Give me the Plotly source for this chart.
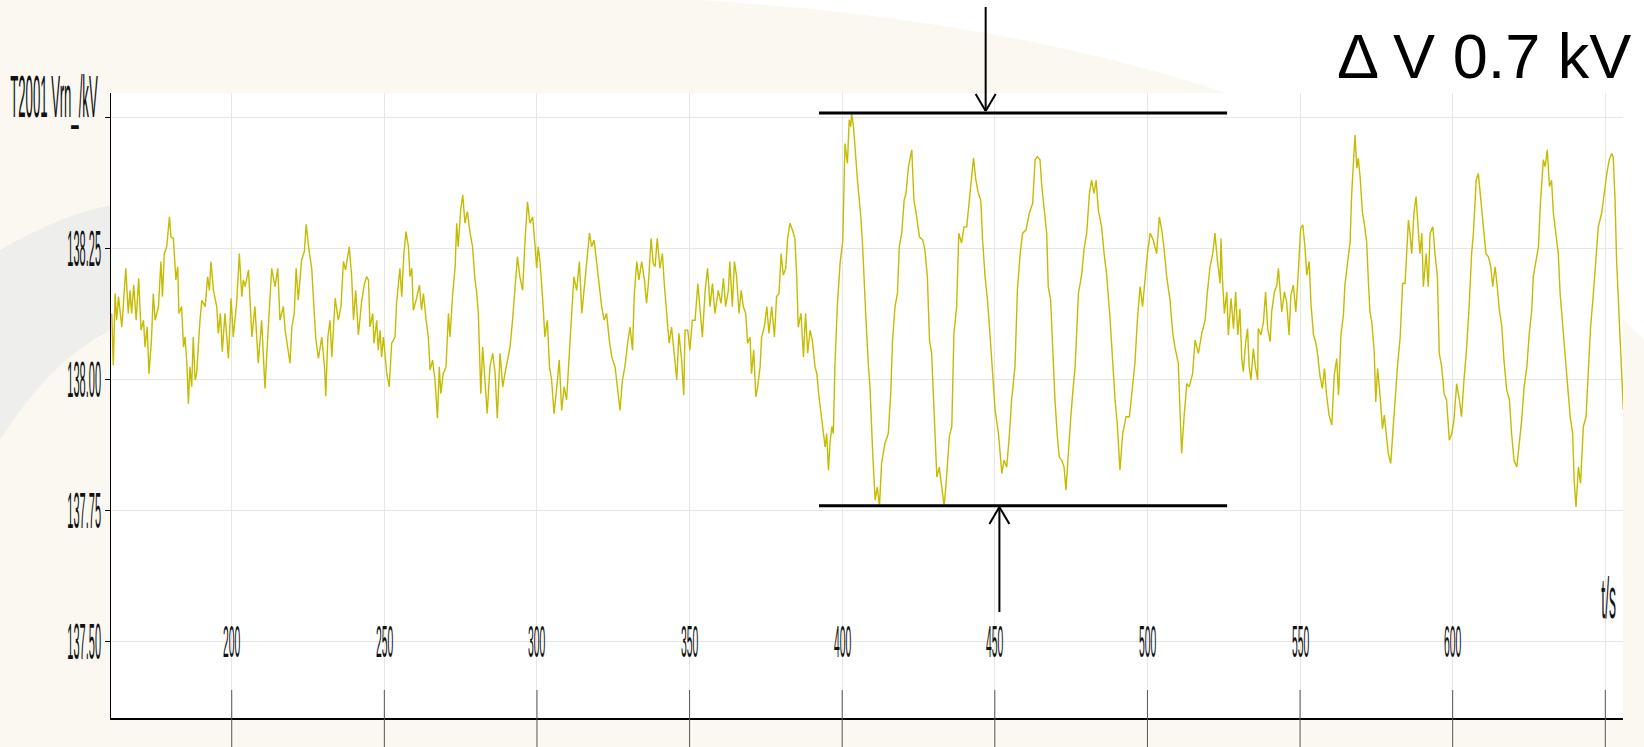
import plotly.graph_objects as go

# ---------------- data ----------------
time_s = [
    160.7, 161.2, 161.8, 162.3, 162.9, 164.0, 165.3, 166.1, 166.7, 167.2, 167.9, 168.7, 169.5, 170.3, 171.1,
    171.6, 172.3, 172.9, 173.7, 174.3, 174.9, 176.0, 176.8, 177.3, 177.9, 178.7, 179.6, 180.1, 180.9, 181.2,
    181.7, 182.3, 182.7, 183.6, 184.2, 184.7, 185.3, 185.8, 186.3, 186.9, 187.4, 188.0, 188.5, 189.6, 190.2,
    191.3, 192.1, 192.7, 193.2, 194.0, 195.1, 195.6, 196.3, 196.9, 197.8, 198.9, 199.8, 200.5, 201.6, 202.5,
    203.3, 203.8, 204.4, 205.5, 206.0, 206.6, 207.6, 208.2, 208.7, 209.8, 210.4, 210.9, 211.8, 212.6, 213.1,
    214.2, 215.1, 215.8, 216.9, 217.5, 218.0, 219.1, 219.7, 220.5, 221.1, 221.8, 222.9, 223.8, 224.4, 224.9,
    225.3, 226.2, 226.8, 227.5, 228.4, 229.5, 230.4, 230.8, 231.5, 232.2, 232.8, 233.3, 233.9, 234.9, 235.8,
    236.6, 237.3, 238.5, 239.3, 239.9, 240.6, 241.5, 242.6, 243.5, 244.2, 244.8, 245.3, 246.2, 246.6, 247.5,
    248.0, 248.6, 249.1, 249.7, 250.2, 250.8, 251.6, 252.4, 253.5, 254.0, 255.1, 255.7, 256.4, 257.1, 257.9,
    258.4, 259.0, 259.5, 260.4, 261.5, 262.2, 262.8, 263.7, 264.4, 265.0, 265.8, 266.6, 267.4, 268.0, 268.5,
    269.3, 270.2, 271.0, 271.5, 272.4, 273.2, 273.7, 274.2, 275.0, 275.7, 276.4, 277.2, 278.1, 278.9, 279.7,
    280.2, 280.8, 281.6, 282.2, 283.0, 283.7, 284.6, 285.5, 286.3, 287.0, 287.9, 288.8, 289.5, 290.3, 291.2,
    292.0, 292.8, 293.6, 294.4, 295.3, 296.1, 296.9, 297.7, 298.6, 299.4, 299.9, 300.4, 301.0, 301.9, 302.6,
    303.4, 304.1, 304.8, 305.6, 306.5, 307.3, 308.1, 308.9, 309.7, 310.6, 311.4, 312.1, 313.0, 313.9, 314.7,
    315.4, 316.3, 317.2, 317.9, 318.7, 319.6, 320.4, 321.2, 322.0, 322.8, 323.7, 324.5, 325.6, 326.4, 327.2,
    328.0, 328.8, 329.7, 330.5, 331.3, 331.9, 332.7, 333.4, 334.3, 335.2, 335.9, 336.5, 337.4, 338.1, 338.7,
    339.4, 340.3, 341.1, 341.7, 342.5, 343.3, 344.1, 345.0, 345.8, 346.5, 347.4, 348.1, 348.5, 349.4, 350.1,
    350.9, 351.8, 352.7, 353.4, 354.2, 355.1, 355.9, 356.7, 357.5, 358.3, 359.4, 360.3, 361.1, 361.8, 362.7,
    363.2, 364.0, 364.7, 365.4, 366.2, 366.9, 367.6, 368.4, 369.0, 369.8, 370.3, 371.0, 371.7, 372.3, 373.1,
    373.6, 374.5, 375.3, 376.0, 376.9, 377.8, 378.5, 379.3, 380.0, 380.7, 381.5, 382.1, 382.9, 383.7, 384.5,
    385.1, 385.6, 386.5, 387.3, 388.0, 388.7, 389.5, 390.2, 391.1, 391.7, 392.4, 393.3, 394.4, 394.9, 395.5,
    396.0, 396.6, 397.1, 397.6, 398.4, 399.3, 400.2, 400.9, 401.7, 402.3, 402.8, 403.1, 403.7, 404.2, 405.0,
    405.6, 406.1, 406.7, 407.1, 407.8, 408.6, 409.1, 410.0, 410.8, 411.5, 412.2, 412.9, 414.0, 415.1, 415.9,
    416.5, 417.3, 418.1, 418.7, 419.5, 420.3, 420.9, 421.7, 422.8, 423.5, 424.4, 425.3, 426.4, 427.1, 427.9,
    428.6, 429.3, 430.1, 431.0, 431.8, 432.6, 433.4, 434.2, 435.1, 435.9, 436.6, 437.5, 438.2, 439.1, 439.9,
    440.8, 441.9, 443.0, 443.8, 444.6, 445.4, 446.0, 446.8, 447.6, 448.4, 449.3, 450.1, 451.2, 452.3, 453.0,
    453.9, 454.8, 455.5, 456.6, 457.4, 458.3, 459.1, 460.2, 461.3, 462.4, 463.2, 463.9, 464.8, 465.4, 466.1,
    467.0, 467.5, 468.3, 469.0, 469.7, 470.5, 471.1, 471.9, 472.7, 473.3, 474.1, 474.9, 475.5, 476.3, 477.4,
    478.5, 479.2, 480.1, 481.0, 481.7, 482.5, 483.2, 483.9, 485.0, 485.8, 486.6, 487.7, 488.6, 489.4, 490.1,
    491.0, 491.9, 493.0, 494.1, 495.2, 495.9, 496.7, 497.6, 498.4, 499.2, 500.0, 500.9, 501.9, 503.0, 503.9,
    504.7, 505.4, 506.3, 507.4, 508.3, 509.0, 510.1, 511.2, 512.0, 512.9, 513.7, 514.8, 515.6, 516.7, 517.8,
    518.9, 519.6, 520.5, 521.4, 522.1, 522.9, 523.8, 524.1, 524.5, 525.2, 526.0, 526.5, 527.4, 528.2, 528.9,
    529.6, 530.3, 530.9, 531.4, 532.2, 532.8, 533.3, 533.9, 534.7, 535.3, 536.1, 536.3, 537.2, 538.0, 538.7,
    539.4, 540.2, 540.7, 541.6, 542.4, 542.9, 543.4, 544.0, 544.9, 545.6, 546.4, 547.0, 547.8, 548.6, 549.2,
    549.7, 550.2, 550.9, 551.6, 552.2, 553.0, 553.6, 554.4, 555.1, 555.8, 556.5, 557.3, 558.0, 558.7, 559.5,
    560.4, 561.2, 562.0, 562.6, 563.4, 564.2, 564.7, 565.6, 566.4, 566.9, 567.6, 568.0, 568.6, 569.1, 569.7,
    570.4, 571.1, 571.8, 572.4, 572.9, 573.5, 574.3, 574.8, 575.4, 576.2, 577.0, 577.6, 578.9, 579.7, 580.4,
    581.1, 581.9, 582.8, 583.6, 584.4, 584.9, 585.5, 586.0, 586.6, 587.3, 588.0, 588.8, 589.3, 589.9, 590.4,
    591.3, 592.0, 592.6, 593.5, 594.2, 595.0, 595.6, 596.4, 597.2, 598.0, 598.9, 599.7, 600.4, 601.3, 602.2,
    602.9, 603.7, 604.6, 605.5, 606.2, 606.8, 607.7, 608.4, 609.2, 610.1, 610.9, 611.7, 612.5, 613.1, 613.9,
    614.6, 615.3, 616.1, 616.8, 617.7, 618.6, 619.3, 620.1, 621.0, 621.9, 622.6, 623.4, 624.3, 625.1, 625.9,
    626.4, 627.3, 628.1, 628.8, 629.7, 630.3, 631.0, 631.7, 632.4, 633.0, 633.9, 634.6, 635.2, 636.0, 636.8,
    637.6, 638.5, 639.3, 639.8, 640.4, 641.2, 641.9, 642.8, 643.7, 644.4, 645.2, 646.1, 647.0, 647.7, 648.8,
    649.6, 650.5, 651.3, 652.1, 652.6, 653.2, 653.7, 654.3, 655.1, 655.9,
]

voltage_kv = [
    138.126, 138.027, 138.164, 138.113, 138.158, 138.100, 138.212, 138.126, 138.170, 138.126, 138.180, 138.113, 138.193, 138.094, 138.113,
    138.062, 138.100, 138.011, 138.075, 138.164, 138.113, 138.139, 138.225, 138.158, 138.240, 138.253, 138.310, 138.272, 138.269, 138.228,
    138.190, 138.215, 138.126, 138.139, 138.062, 138.081, 138.031, 137.954, 138.024, 137.986, 138.081, 137.999, 138.011, 138.113, 138.151,
    138.139, 138.196, 138.170, 138.225, 138.170, 138.139, 138.088, 138.126, 138.053, 138.126, 138.040, 138.155, 138.081, 138.145, 138.240,
    138.158, 138.190, 138.177, 138.209, 138.151, 138.081, 138.139, 138.088, 138.031, 138.113, 138.050, 137.983, 138.081, 138.151, 138.212,
    138.177, 138.212, 138.113, 138.139, 138.094, 138.075, 138.031, 138.100, 138.126, 138.212, 138.151, 138.228, 138.244, 138.296, 138.266,
    138.247, 138.212, 138.139, 138.081, 138.040, 138.081, 138.024, 137.968, 138.081, 138.113, 138.043, 138.088, 138.155, 138.113, 138.139,
    138.225, 138.209, 138.253, 138.196, 138.113, 138.170, 138.085, 138.151, 138.183, 138.196, 138.190, 138.100, 138.126, 138.069, 138.113,
    138.056, 138.094, 138.043, 138.081, 138.043, 138.011, 137.986, 138.069, 138.081, 138.145, 138.212, 138.158, 138.240, 138.282, 138.253,
    138.196, 138.212, 138.132, 138.151, 138.180, 138.132, 138.164, 138.113, 138.081, 138.018, 138.037, 137.999, 137.926, 138.024, 137.973,
    138.011, 138.024, 138.126, 138.081, 138.164, 138.215, 138.298, 138.253, 138.323, 138.352, 138.298, 138.320, 138.279, 138.253, 138.190,
    138.170, 138.126, 137.973, 138.062, 137.986, 137.935, 138.024, 138.050, 138.011, 137.926, 138.050, 137.986, 138.011, 138.037, 138.062,
    138.113, 138.170, 138.234, 138.196, 138.170, 138.266, 138.339, 138.298, 138.310, 138.253, 138.212, 138.253, 138.225, 138.151, 138.081,
    138.113, 138.024, 137.999, 137.935, 137.986, 138.037, 137.941, 137.986, 137.961, 138.050, 138.113, 138.196, 138.170, 138.225, 138.126,
    138.170, 138.212, 138.279, 138.253, 138.266, 138.221, 138.183, 138.139, 138.113, 138.126, 138.075, 138.043, 138.024, 137.986, 137.941,
    137.999, 138.024, 138.069, 138.100, 138.056, 138.164, 138.225, 138.190, 138.225, 138.190, 138.145, 138.183, 138.269, 138.221, 138.215,
    138.269, 138.212, 138.240, 138.183, 138.126, 138.069, 138.100, 138.050, 137.999, 138.088, 138.037, 137.970, 138.094, 138.094, 138.056,
    138.113, 138.113, 138.183, 138.139, 138.081, 138.170, 138.212, 138.139, 138.183, 138.126, 138.170, 138.145, 138.193, 138.139, 138.170,
    138.225, 138.139, 138.225, 138.196, 138.126, 138.170, 138.139, 138.126, 138.069, 138.081, 138.011, 138.056, 137.967, 137.986, 138.024,
    138.081, 138.100, 138.139, 138.088, 138.139, 138.081, 138.158, 138.164, 138.240, 138.199, 138.212, 138.269, 138.298, 138.285, 138.269,
    138.196, 138.100, 138.126, 138.043, 138.126, 138.050, 138.094, 138.075, 138.024, 138.011, 137.967, 137.926, 137.871, 137.897, 137.827,
    137.878, 137.910, 137.897, 138.024, 138.139, 138.221, 138.266, 138.450, 138.412, 138.495, 138.482, 138.508, 138.482, 138.438, 138.380,
    138.342, 138.310, 138.253, 138.196, 138.113, 138.024, 137.986, 137.859, 137.770, 137.795, 137.757, 137.840, 137.878, 137.897, 137.973,
    138.075, 138.139, 138.164, 138.253, 138.279, 138.342, 138.355, 138.406, 138.438, 138.342, 138.310, 138.272, 138.266, 138.247, 138.196,
    138.075, 138.050, 137.929, 137.814, 137.833, 137.795, 137.757, 137.814, 137.891, 137.910, 138.088, 138.139, 138.279, 138.260, 138.291,
    138.291, 138.355, 138.422, 138.380, 138.355, 138.342, 138.266, 138.196, 138.151, 138.088, 137.999, 137.941, 137.897, 137.821, 137.846,
    137.833, 137.897, 137.961, 138.024, 138.170, 138.240, 138.279, 138.285, 138.317, 138.336, 138.419, 138.425, 138.419, 138.368, 138.330,
    138.279, 138.177, 138.151, 138.056, 137.961, 137.891, 137.852, 137.846, 137.833, 137.789, 137.865, 137.929, 137.973, 138.024, 138.164,
    138.202, 138.247, 138.279, 138.355, 138.380, 138.355, 138.380, 138.323, 138.291, 138.240, 138.202, 138.120, 138.031, 137.961, 137.916,
    137.827, 137.897, 137.929, 137.929, 137.992, 138.031, 138.113, 138.177, 138.139, 138.196, 138.240, 138.279, 138.266, 138.240, 138.310,
    138.285, 138.253, 138.196, 138.151, 138.088, 138.062, 138.031, 137.859, 137.929, 137.992, 137.986, 138.011, 138.075, 138.050, 138.088,
    138.113, 138.164, 138.215, 138.240, 138.279, 138.228, 138.183, 138.269, 138.199, 138.126, 138.167, 138.085, 138.155, 138.097, 138.167,
    138.085, 138.135, 138.040, 138.015, 138.072, 138.097, 138.027, 137.999, 138.059, 138.027, 137.999, 138.097, 138.085, 138.110, 138.167,
    138.097, 138.072, 138.129, 138.167, 138.180, 138.212, 138.174, 138.129, 138.167, 138.148, 138.085, 138.161, 138.180, 138.129, 138.183,
    138.250, 138.288, 138.295, 138.253, 138.199, 138.225, 138.142, 138.085, 138.072, 138.046, 138.008, 137.983, 138.021, 137.970, 137.932,
    137.913, 138.008, 138.040, 137.970, 138.085, 138.123, 138.180, 138.225, 138.263, 138.352, 138.415, 138.466, 138.403, 138.422, 138.384,
    138.320, 138.295, 138.263, 138.186, 138.129, 138.110, 138.053, 137.957, 138.021, 137.970, 137.906, 137.932, 137.859, 137.840, 137.897,
    137.973, 138.024, 138.081, 138.183, 138.183, 138.240, 138.304, 138.279, 138.240, 138.317, 138.349, 138.279, 138.240, 138.279, 138.177,
    138.240, 138.177, 138.279, 138.291, 138.240, 138.196, 138.050, 138.024, 137.973, 137.961, 137.884, 137.897, 137.922, 137.992, 137.961,
    137.929, 137.999, 138.062, 138.151, 138.240, 138.279, 138.380, 138.393, 138.342, 138.285, 138.240, 138.234, 138.215, 138.177, 138.215,
    138.177, 138.132, 138.101, 138.037, 137.980, 137.961, 137.897, 137.846, 137.833, 137.884, 137.922, 137.986, 138.024, 138.088, 138.132,
    138.196, 138.228, 138.253, 138.342, 138.419, 138.406, 138.438, 138.368, 138.380, 138.317, 138.279, 138.240, 138.164, 138.101, 138.056,
    137.992, 137.929, 137.897, 137.808, 137.757, 137.833, 137.802, 137.910, 137.929, 138.011, 138.101, 138.164, 138.240, 138.291, 138.317,
    138.355, 138.393, 138.419, 138.431, 138.425, 138.342, 138.228, 138.151, 138.062, 137.942,
]

x_tick_vals = [200, 250, 300, 350, 400, 450, 500, 550, 600, 650]
x_tick_labels = ["200", "250", "300", "350", "400", "450", "500", "550", "600", ""]
y_tick_vals = [137.50, 137.75, 138.00, 138.25, 138.50]
y_tick_labels = ["137.50", "137.75", "138.00", "138.25", ""]

y_title = "T2001 Vrn_/kV"
x_title = "t/s"
delta_label = "\u0394 V 0.7 kV"

band_t = [392.4, 526.1]          # extent of the two marker lines (s)
band_v = [137.759, 138.508]      # min / max of the swing (kV)
arrow_t = [447.0, 451.5]         # top arrow, bottom arrow (s)

# ---------------- geometry ----------------
W, H = 1644, 747
L, R, T, B = 111, 1623, 93, 718
PW, PH = R - L, B - T
X_RANGE = [160.45, 655.8]
Y_RANGE = [137.3545, 138.5463]


def px(xp):
    return (xp - L) / PW


def py(yp):
    return (B - yp) / PH


def sq_font(scale_pct):
    # "Squash-NN" is a marker read by the page script (horizontal scale NN %)
    return f"Squash-{scale_pct}, Liberation Sans, Arial"


LINE_COLOR = "#c5bc00"
GRID = "#e6e6e6"

fig = go.Figure()
fig.add_trace(go.Scatter(
    x=time_s, y=voltage_kv, mode="lines",
    line=dict(color=LINE_COLOR, width=1.4),
    hoverinfo="skip", showlegend=False,
))

shapes = []
# background swooshes (decorative)
shapes.append(dict(
    type="path", xref="paper", yref="paper", layer="below",
    path=f"M {px(700)},{py(0)} Q {px(1350)},{py(40)} {px(1644)},{py(340)} L {px(1644)},{py(0)} Z",
    fillcolor="#ffffff", line=dict(width=0),
))
shapes.append(dict(
    type="path", xref="paper", yref="paper", layer="below",
    path=f"M {px(0)},{py(250)} Q {px(60)},{py(215)} {px(111)},{py(205)} L {px(111)},{py(330)} Q {px(50)},{py(360)} {px(0)},{py(440)} Z",
    fillcolor="#eeeeec", line=dict(width=0),
))

# long x ticks crossing the axis line
for v in x_tick_vals:
    shapes.append(dict(
        type="line", xref="x", yref="paper", x0=v, x1=v,
        y0=py(H + 2), y1=py(690), line=dict(color="#555555", width=1),
    ))

# horizontal marker lines (max/min of the swing)
for v in band_v:
    shapes.append(dict(
        type="line", xref="x", yref="y", x0=band_t[0], x1=band_t[1], y0=v, y1=v,
        line=dict(color="black", width=3),
    ))

# arrows (open heads)
ws = 10 / (PW / (X_RANGE[1] - X_RANGE[0]))  # 10 px expressed in seconds
ta, tb = arrow_t
arrow_segments = [
    (ta, py(7), ta, py(111)),
    (ta - ws, py(94), ta, py(111)),
    (ta + ws, py(94), ta, py(111)),
    (tb, py(612), tb, py(507)),
    (tb - ws, py(524), tb, py(507)),
    (tb + ws, py(524), tb, py(507)),
]
for x0, y0, x1, y1 in arrow_segments:
    shapes.append(dict(
        type="line", xref="x", yref="paper", x0=x0, x1=x1, y0=y0, y1=y1,
        line=dict(color="black", width=2),
    ))

annotations = []
for v, lab in zip(x_tick_vals, x_tick_labels):
    if not lab:
        continue
    annotations.append(dict(
        x=v, y=137.5, xref="x", yref="y", text=lab, showarrow=False,
        xanchor="center", yanchor="middle",
        font=dict(family=sq_font(23), size=45, color="#111111"),
    ))
annotations.append(dict(
    x=651.2, y=137.585, xref="x", yref="y", text=x_title, showarrow=False,
    xanchor="center", yanchor="middle",
    font=dict(family=sq_font(24), size=58, color="#111111"),
))
annotations.append(dict(
    x=px(54), y=py(97), xref="paper", yref="paper", text=y_title, showarrow=False,
    xanchor="center", yanchor="middle",
    font=dict(family=sq_font(22), size=60, color="#111111"),
))
annotations.append(dict(
    x=px(1633), y=py(56), xref="paper", yref="paper", text=delta_label, showarrow=False,
    xanchor="right", yanchor="middle",
    font=dict(family="Liberation Sans, Arial, sans-serif", size=63, color="#000000"),
))

fig.update_layout(
    template="none",
    width=W, height=H, autosize=False,
    margin=dict(l=L, r=W - R, t=T, b=H - B, pad=0),
    paper_bgcolor="#faf8f1",
    plot_bgcolor="#ffffff",
    showlegend=False,
    shapes=shapes,
    annotations=annotations,
    xaxis=dict(
        range=X_RANGE, tickvals=x_tick_vals, showticklabels=False, ticks="",
        showgrid=True, gridcolor=GRID, gridwidth=1, zeroline=False,
        showline=True, linecolor="black", linewidth=1.5, automargin=False,
    ),
    yaxis=dict(
        range=Y_RANGE, tickvals=y_tick_vals, ticktext=y_tick_labels,
        ticks="outside", ticklen=5, tickcolor="black", tickwidth=1,
        showgrid=True, gridcolor=GRID, gridwidth=1, zeroline=False,
        showline=True, linecolor="black", linewidth=1, automargin=False,
        ticklabelstandoff=-6,
        tickfont=dict(family=sq_font(22), size=50, color="#111111"),
    ),
)

post_js = r"""
(function(){
  document.body.style.margin = '0';
  var gd = document.getElementById('{plot_id}');
  function squash(){
    var texts = gd.querySelectorAll('text');
    texts.forEach(function(t){
      var ff = (t.style && t.style.fontFamily) || t.getAttribute('font-family') || '';
      var m = ff.match(/Squash-(\d+)/);
      if (!m) return;
      var tr = t.getAttribute('transform') || '';
      if (tr.indexOf('/*sq*/') >= 0 || t.getAttribute('data-sqtr') === tr) return;
      var s = parseInt(m[1], 10) / 100;
      var x = parseFloat(t.getAttribute('x')) || 0;
      var nt = tr + ' translate(' + x + ',0) scale(' + s + ',1) translate(' + (-x) + ',0)';
      t.setAttribute('transform', nt);
      t.setAttribute('data-sqtr', nt);
    });
  }
  squash();
  setTimeout(squash, 30);
  setTimeout(squash, 300);
  if (gd && gd.on) { gd.on('plotly_afterplot', function(){ setTimeout(squash, 0); }); }
})();
"""

fig.write_html("out.html", include_plotlyjs=True, full_html=True, post_script=post_js,
               config={"displayModeBar": False})
